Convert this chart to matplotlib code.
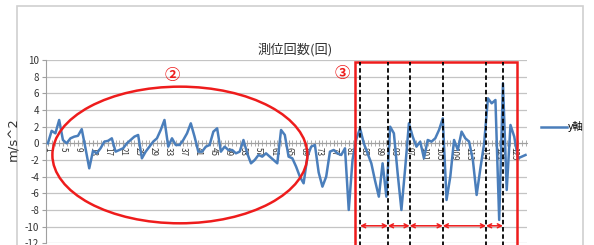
import numpy as np
import matplotlib.pyplot as plt
from matplotlib.patches import Ellipse, Rectangle

plt.rcParams['font.family'] = ['Noto Sans CJK JP', 'DejaVu Sans']

# y-axis acceleration values per measurement count (1..128)
y_values = [0, 1.5, 1.2, 2.8, 0.4, 0, 0.6, 0.8, 0.9, 1.7,
            -0.6, -3.0, -0.9, -1.2, -0.6, 0.2, 0.3, 0.6, -1.0, -0.8,
            -0.6, 0.0, 0.4, 0.8, 1.0, -1.8, -1.0, -0.4, 0.2, 0.6,
            1.6, 2.8, -0.4, 0.6, -0.2, -0.2, 0.4, 1.2, 2.4, 0.8,
            -1.0, -1.0, -0.4, -0.2, 1.4, 1.8, -1.0, -0.4, -0.8, -0.8,
            -1.2, -1.0, 0.4, -1.2, -2.4, -2.0, -1.4, -1.6, -1.2, -1.6,
            -2.0, -2.4, 1.6, 1.0, -1.6, -1.8, -2.8, -4.0, -4.8, -1.6,
            -0.4, -0.2, -3.5, -5.2, -4.0, -1.0, -0.8, -1.2, -1.4, -0.6,
            -8.0, -2.0, 0.5, 1.8, 0.0, -1.2, -2.4, -4.5, -6.4, -2.4,
            -6.4, 2.0, 1.2, -3.6, -8.0, -3.0, 2.4, 0.8, -0.4, 0.2,
            -1.8, 0.4, 0.2, 0.6, 1.6, 3.0, -6.8, -4.0, 0.4, -0.8,
            1.4, 0.6, 0.2, -2.0, -6.2, -3.0, 0.0, 5.4, 4.8, 5.2,
            -9.2, 7.2, -5.6, 2.2, 0.8, -1.8, -1.6, -1.4]
counts = np.arange(1, len(y_values) + 1)
y_ticks = list(range(-12, 11, 2))
x_label_ticks = list(range(1, len(y_values) + 1, 4))

# annotation positions (in measurement count)
dash_x = [84, 91.4, 97.2, 106, 117.5, 122]

W, H = 594, 245
fig = plt.figure(figsize=(W / 100, H / 100), dpi=100)
fig.patch.set_facecolor('white')

# outer chart frame
fig.add_artist(Rectangle((17 / W, -0.1), (583 - 17) / W, 1.1 - 6 / H,
                         transform=fig.transFigure, fill=False,
                         edgecolor='#d0d0d0', lw=1.2))

ax = fig.add_axes([46 / W, 1.7 / H, (527.4 - 46) / W, 183.3 / H])
ax.plot(counts, y_values, color='#4a7ebb', lw=1.8, zorder=3, label='y軸')

ax.set_xlim(0.5, len(y_values) + 0.5)
ax.set_ylim(-12, 10)
ax.set_yticks(y_ticks)
ax.set_yticklabels([str(v) for v in y_ticks], fontsize=7, color='#333333')
ax.grid(axis='y', color='#c4c4c4', lw=0.9)
ax.set_axisbelow(True)

ax.spines['top'].set_visible(False)
ax.spines['right'].set_visible(False)
ax.spines['left'].set_color('#a0a0a0')
ax.spines['bottom'].set_position(('data', 0))
ax.spines['bottom'].set_color('#a0a0a0')
ax.tick_params(axis='y', length=3, color='#a0a0a0', pad=2)

ax.set_xticks(x_label_ticks)
ax.set_xticklabels([str(v) for v in x_label_ticks], rotation=-90,
                   fontsize=5.8, color='#333333')
ax.set_xticks(counts, minor=True)
ax.tick_params(axis='x', which='both', direction='inout', length=4,
               color='#a0a0a0', pad=1)

fig.text(295 / W, 1 - 50 / H, '測位回数(回)', fontsize=9.5, color='#333333',
         ha='center', va='center')
fig.text(14 / W, 1 - 139 / H, 'm/s^2', fontsize=9.5, color='#333333',
         rotation=90, ha='center', va='center', family='DejaVu Sans')

fig.legend(loc='center left', bbox_to_anchor=(536 / W, 1 - 127 / H),
           frameon=False, fontsize=7.5, handlelength=2.5, handletextpad=0.1,
           borderpad=0)

# annotations
ax.add_patch(Ellipse((36.1, -1.4), 67.8, 16.4, fill=False, edgecolor='#ee1c1c',
                     lw=1.8, clip_on=False, zorder=4))
ax.add_patch(Rectangle((82.6, -14), 43.1, 23.8, fill=False, edgecolor='#ee1c1c',
                       lw=1.8, clip_on=False, zorder=4))
for xd in dash_x:
    ax.plot([xd, xd], [-13, 9.7], color='black', lw=1.3, ls=(0, (2.5, 1.5)),
            clip_on=False, zorder=5)
for x0, x1 in zip(dash_x[:-1], dash_x[1:]):
    ax.annotate('', xy=(x1, -9.9), xytext=(x0, -9.9),
                arrowprops=dict(arrowstyle='<->', color='#ee1c1c', lw=1.1,
                                shrinkA=0, shrinkB=0, mutation_scale=7))
fig.text(172 / W, 1 - 75 / H, '②', fontsize=11, color='#ee1c1c',
         ha='center', va='center', fontweight='bold')
fig.text(342 / W, 1 - 73 / H, '③', fontsize=11, color='#ee1c1c',
         ha='center', va='center', fontweight='bold')

fig.savefig('out.png', dpi=100)
